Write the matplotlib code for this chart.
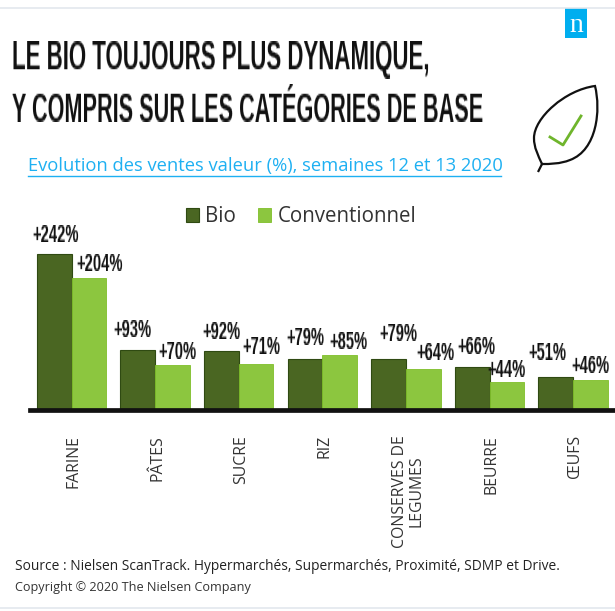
import numpy as np
import matplotlib
matplotlib.use('Agg')
import matplotlib.pyplot as plt
from matplotlib.path import Path
from matplotlib.patches import PathPatch, Rectangle
from matplotlib.transforms import ScaledTranslation, offset_copy

categories = ['FARINE', 'PÂTES', 'SUCRE', 'RIZ', 'CONSERVES DE\nLEGUMES', 'BEURRE', 'ŒUFS']
bio = [242, 93, 92, 79, 79, 66, 51]
conv = [204, 70, 71, 85, 64, 44, 46]

# the labels were nudged by hand in the original, offsets in pixels
bio_dx = [1, -5, 0, 0, 10, 4, -8]
bio_dy = [12, 13, 12, 14, 18, 13, 17]
conv_dx = [11, 5, 5, 9, 12, 0, 0]
conv_dy = [7, 6, 10, 6, 9, 5, 7]

DARK = '#4a6622'
LIGHT = '#8cc63f'
BLUE = '#1eb0f2'


# no Bebas type font here, so make a smaller font taller
def stretch(factor):
    def f(img, dpi):
        h = img.shape[0]
        new_h = int(round(h * factor))
        rows = np.clip((np.arange(new_h) + 0.5) / factor - 0.5, 0, h - 1)
        lo = np.floor(rows).astype(int)
        hi = np.minimum(lo + 1, h - 1)
        w = (rows - lo)[:, None, None]
        return img[lo] * (1 - w) + img[hi] * w, 0, 0
    return f


fig = plt.figure(figsize=(6.15, 6.11), dpi=100)

# page layer in pixel coordinates
page = fig.add_axes([0, 0, 1, 1])
page.set_xlim(0, 615)
page.set_ylim(611, 0)
page.axis('off')

ax = fig.add_axes([30 / 615, 1 - 410 / 611, 585 / 615, 210 / 611])
x = np.arange(len(categories))
width = 0.415
ax.bar(x - width / 2, bio, width, color=DARK, edgecolor='#2f4a12', linewidth=0.8, label='Bio')
ax.bar(x + width / 2, conv, width, color=LIGHT, edgecolor='#7fbf2a', linewidth=0.6, label='Conventionnel')
ax.set_xlim((30 - 71.5) / 83.6, (615 - 71.5) / 83.6)
ax.set_ylim(0, 210 / 0.645)
ax.patch.set_alpha(0)

for s in ['top', 'left', 'right']:
    ax.spines[s].set_visible(False)
ax.spines['bottom'].set_linewidth(3.4)
ax.spines['bottom'].set_color('#111111')
ax.set_yticks([])
ax.set_xticks(x)
ax.set_xticklabels(categories, rotation=90, family='Open Sans', fontsize=11.4,
                   color='#333333', va='top', ha='center', multialignment='center',
                   linespacing=1.05)
ax.tick_params(axis='x', length=0, pad=18)
for lab in ax.get_xticklabels():
    lab.set_transform(lab.get_transform() + ScaledTranslation(2 / 100, 0, fig.dpi_scale_trans))

for i in x:
    for val, xpos, dx, dy in [(bio[i], i - width / 2, bio_dx[i], bio_dy[i]),
                              (conv[i], i + width / 2, conv_dx[i], conv_dy[i])]:
        trans = offset_copy(ax.transData, fig=fig, x=dx, y=dy, units='dots')
        t = ax.text(xpos, val, '+%d%%' % val, transform=trans, ha='center', va='baseline',
                    family='Liberation Sans', fontweight='bold', fontsize=10.6, color='#111111',
                    clip_on=False)
        t.set_agg_filter(stretch(1.7))

ax.legend(loc='upper left', bbox_to_anchor=(137 / 585, 1.06), ncol=2, frameon=False,
          prop={'family': 'Open Sans', 'size': 14.8}, labelcolor='#333333',
          handlelength=0.65, handleheight=0.65, handletextpad=0.3, columnspacing=1.07)

# title
for txt, y, size in [('LE BIO TOUJOURS PLUS DYNAMIQUE,', 74, 16.0),
                     ('Y COMPRIS SUR LES CATÉGORIES DE BASE', 122, 15.6)]:
    t = page.text(12, y, txt, family='Liberation Sans', fontweight='bold', fontsize=size,
                  color='#111111', va='baseline', ha='left')
    t.set_agg_filter(stretch(1.9))

page.text(28, 166, 'Evolution des ventes valeur (%), semaines 12 et 13 2020', family='Open Sans',
          fontsize=13.2, color=BLUE, va='center', ha='left')
page.plot([28, 501], [176, 176], color=BLUE, lw=1)

page.text(15, 566, 'Source : Nielsen ScanTrack. Hypermarchés, Supermarchés, Proximité, SDMP et Drive.',
          family='Open Sans', fontsize=9.92, color='#222222', va='center')
page.text(15, 587, 'Copyright © 2020 The Nielsen Company', family='Open Sans', fontsize=9.1,
          color='#333333', va='center')

# frame lines of the page
page.plot([0, 615], [8, 8], color='#e3e8ee', lw=1.2)
page.plot([0, 615], [608, 608], color='#e3e8ee', lw=1.2)

# logo
page.add_patch(Rectangle((565, 8), 22, 30, color='#00aeef', lw=0))
page.text(576, 25, 'n', family='Liberation Serif', fontsize=20, color='white', ha='center', va='center')

# leaf icon
leaf = Path([(542, 164), (538, 155), (534, 148), (534, 138),
             (534, 118), (565, 90), (595, 86),
             (601, 110), (597, 150), (570, 160),
             (560, 164), (550, 164), (542, 164),
             (542, 164), (538, 172)],
            [Path.MOVETO] + [Path.CURVE4] * 12 + [Path.MOVETO, Path.LINETO])
page.add_patch(PathPatch(leaf, fill=False, ec='#111111', lw=1.6))
page.plot([550, 563, 581], [137, 145, 116], color='#6fb52c', lw=2)

fig.savefig('out.png', dpi=100)
